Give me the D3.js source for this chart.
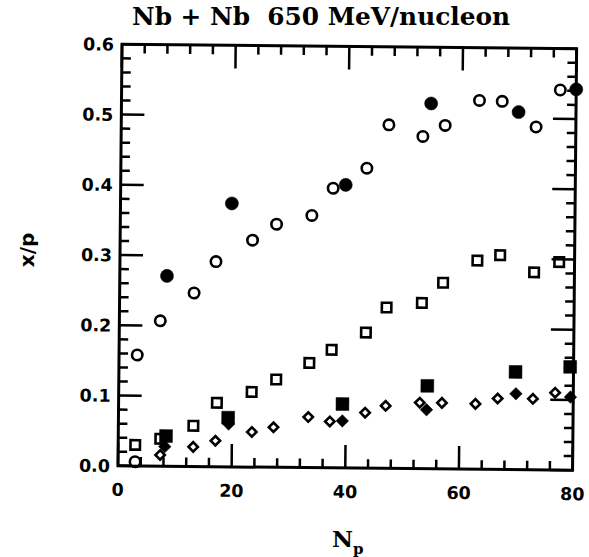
<!DOCTYPE html>
<html>
<head>
<meta charset="utf-8">
<script src="https://cdn.jsdelivr.net/npm/d3@7"></script>
<style>
  body { margin: 0; background: #fff; }
  svg { display: block; }
</style>
</head>
<body>
<div id="chart"></div>
<script>
// values, [Np, x/p]
const openCircles = [
  [3.0, 0.006], [3.2, 0.158], [7.2, 0.207], [13.1, 0.247], [16.9, 0.292],
  [23.3, 0.323], [27.5, 0.346], [33.7, 0.359], [37.4, 0.398], [43.3, 0.427],
  [47.1, 0.489], [53.1, 0.473], [57.0, 0.489], [63.0, 0.525], [67.0, 0.524],
  [73.0, 0.488], [77.2, 0.541]
];
const filledCircles = [
  [8.3, 0.271], [19.6, 0.375], [39.6, 0.403], [54.5, 0.520], [69.9, 0.509], [80.0, 0.542]
];
const openSquares = [
  [3.0, 0.030], [7.4, 0.039], [13.2, 0.058], [17.3, 0.091], [23.4, 0.107],
  [27.7, 0.125], [33.5, 0.149], [37.4, 0.168], [43.4, 0.193], [47.0, 0.229],
  [53.2, 0.236], [56.9, 0.265], [62.9, 0.297], [66.9, 0.305], [72.9, 0.281],
  [77.3, 0.296]
];
const filledSquares = [
  [8.4, 0.043], [19.3, 0.070], [39.4, 0.091], [54.3, 0.118], [69.8, 0.139], [79.4, 0.147]
];
const openDiamonds = [
  [7.4, 0.016], [13.2, 0.028], [17.1, 0.037], [23.5, 0.050], [27.3, 0.057],
  [33.4, 0.072], [37.2, 0.066], [43.4, 0.079], [47.0, 0.089], [53.0, 0.094],
  [56.9, 0.094], [62.8, 0.093], [66.7, 0.101], [72.9, 0.101], [76.8, 0.110]
];
const filledDiamonds = [
  [8.2, 0.028], [19.4, 0.061], [39.4, 0.067], [54.2, 0.084], [69.9, 0.108], [79.5, 0.104]
];

const xMajor = [0, 20, 40, 60, 80];
const yMajor = [0, 0.1, 0.2, 0.3, 0.4, 0.5, 0.6];
const xMinor = [4, 8, 12, 16, 24, 28, 32, 36, 44, 48, 52, 56, 64, 68, 72, 76];
const yMinor = [0.02, 0.04, 0.06, 0.08, 0.12, 0.14, 0.16, 0.18, 0.22, 0.24, 0.26, 0.28,
  0.32, 0.34, 0.36, 0.38, 0.42, 0.44, 0.46, 0.48, 0.52, 0.54, 0.56, 0.58];

const width = 589, height = 557;
const margin = { top: 46.5, right: 14.4, bottom: 89, left: 120 };
const iw = width - margin.left - margin.right;
const ih = height - margin.top - margin.bottom;
// the scan is tilted a little, turn the whole figure with it
const tilt = `rotate(0.55, 348, 257) translate(${margin.left},${margin.top})`;

const svg = d3.select("#chart").append("svg")
  .attr("width", width)
  .attr("height", height)
  .style("background", "#fff");

const x = d3.scaleLinear().domain([0, 80]).range([0, iw]);
const y = d3.scaleLinear().domain([0, 0.6]).range([ih, 0]);

const g = svg.append("g").attr("transform", tilt);

g.append("path")
  .attr("d", `M0,0H${iw}V${ih}H0Z`)
  .attr("fill", "none").attr("stroke", "#000").attr("stroke-width", 3);

// tick labels
const labelFont = "'DejaVu Sans', sans-serif";
g.append("g").selectAll("text")
  .data(xMajor).join("text")
  .attr("x", d => x(d)).attr("y", ih + 30)
  .attr("text-anchor", "middle")
  .attr("font-family", labelFont).attr("font-weight", "bold").attr("font-size", 17.5)
  .text(d => d);

g.append("g").selectAll("text")
  .data(yMajor).join("text")
  .attr("x", -8).attr("y", d => y(d)).attr("dy", "0.36em")
  .attr("text-anchor", "end")
  .attr("font-family", labelFont).attr("font-weight", "bold").attr("font-size", 17.5)
  .text(d => d.toFixed(1));

// markers
const markers = [
  { data: openCircles, type: d3.symbolCircle, size: 85, fill: false, rot: 0 },
  { data: openSquares, type: d3.symbolSquare, size: 90, fill: false, rot: 0 },
  { data: openDiamonds, type: d3.symbolSquare, size: 44, fill: false, rot: 45 },
  { data: filledCircles, type: d3.symbolCircle, size: 135, fill: true, rot: 0 },
  { data: filledSquares, type: d3.symbolSquare, size: 165, fill: true, rot: 0 },
  { data: filledDiamonds, type: d3.symbolSquare, size: 78, fill: true, rot: 45 }
];
markers.forEach(m => {
  g.append("g").selectAll("path")
    .data(m.data).join("path")
    .attr("transform", d => `translate(${x(d[0])},${y(d[1])}) rotate(${m.rot})`)
    .attr("d", d3.symbol().type(m.type).size(m.size))
    .attr("fill", m.fill ? "#000" : "#fff")
    .attr("stroke", "#000")
    .attr("stroke-width", m.fill ? 0.5 : 2.6);
});

// inward ticks on all four sides, each one its own marker path
const tickSets = [
  ...xMajor.map(v => ({ px: x(v), py: ih, w: 2.5, h: 23, dir: "up" })),
  ...xMajor.map(v => ({ px: x(v), py: 0, w: 2.5, h: 23, dir: "down" })),
  ...xMinor.map(v => ({ px: x(v), py: ih, w: 2.5, h: 9, dir: "up" })),
  ...xMinor.map(v => ({ px: x(v), py: 0, w: 2.5, h: 9, dir: "down" })),
  ...yMajor.map(v => ({ px: 0, py: y(v), w: 23, h: 2.5, dir: "right" })),
  ...yMajor.map(v => ({ px: iw, py: y(v), w: 23, h: 2.5, dir: "left" })),
  ...yMinor.map(v => ({ px: 0, py: y(v), w: 9, h: 2.5, dir: "right" })),
  ...yMinor.map(v => ({ px: iw, py: y(v), w: 9, h: 2.5, dir: "left" }))
];
const tickLayer = svg.append("g").attr("transform", tilt);
tickLayer.selectAll("path")
  .data(tickSets).join("path")
  .attr("d", t => {
    const x0 = t.dir === "left" ? t.px - t.w : (t.dir === "right" ? t.px : t.px - t.w / 2);
    const y0 = t.dir === "up" ? t.py - t.h : (t.dir === "down" ? t.py : t.py - t.h / 2);
    return `M${x0.toFixed(2)},${y0.toFixed(2)}h${t.w}v${t.h}h${-t.w}Z`;
  })
  .attr("fill", "#000")
  .attr("stroke", "none");

// titles
const titleFont = "'DejaVu Serif', serif";
svg.append("text")
  .attr("x", 132).attr("y", 25)
  .attr("textLength", 378).attr("lengthAdjust", "spacingAndGlyphs")
  .attr("font-family", titleFont).attr("font-weight", "bold").attr("font-size", 24)
  .attr("xml:space", "preserve")
  .text("Nb + Nb  650 MeV/nucleon");

const xt = svg.append("text")
  .attr("x", 332).attr("y", 547)
  .attr("font-family", titleFont).attr("font-weight", "bold").attr("font-size", 23);
xt.append("tspan").text("N");
xt.append("tspan").attr("font-size", 15).attr("dy", 7).text("p");

svg.append("text")
  .attr("transform", "translate(34,250) rotate(-90)")
  .attr("text-anchor", "middle")
  .attr("font-family", labelFont).attr("font-weight", "bold").attr("font-size", 20)
  .text("x/p");
</script>
</body>
</html>
